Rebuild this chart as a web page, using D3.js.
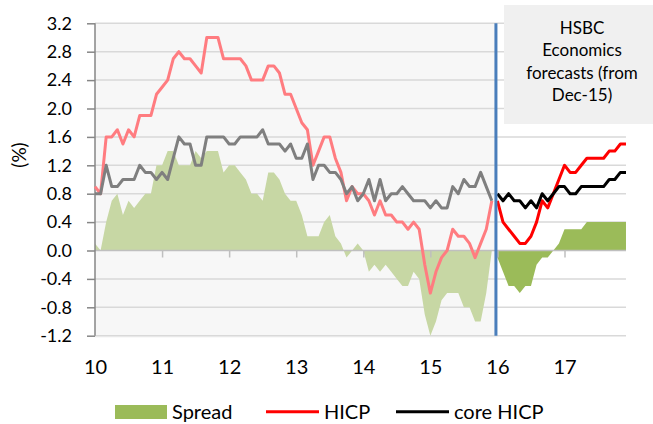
<!DOCTYPE html>
<html><head><meta charset="utf-8">
<script src="https://cdn.jsdelivr.net/npm/d3@7"></script>
<style>
body{margin:0;background:#fff;}
svg{display:block;font-family:Lato,"Open Sans",sans-serif;}
</style>
</head><body>
<svg id="c" width="653" height="424"></svg>
<script>
// ---- data (monthly, Jan 2010 .. Dec 2017) ----
const startYear = 2010;
const hicpHist = [
  0.9,0.8,1.6,1.6,1.7,1.5,1.7,1.6,1.9,1.9,1.9,2.2,
  2.3,2.4,2.7,2.8,2.7,2.7,2.6,2.5,3.0,3.0,3.0,2.7,
  2.7,2.7,2.7,2.6,2.4,2.4,2.4,2.6,2.6,2.5,2.2,2.2,
  2.0,1.8,1.7,1.2,1.4,1.6,1.6,1.3,1.1,0.7,0.9,0.8,
  0.8,0.7,0.5,0.7,0.5,0.5,0.4,0.4,0.3,0.4,0.3,-0.2,
  -0.6,-0.3,-0.1,0.0,0.3,0.2,0.2,0.1,-0.1,0.1,0.3,0.7];
const coreHist = [
  0.8,0.8,1.2,0.9,0.9,1.0,1.0,1.0,1.2,1.1,1.1,1.0,
  1.1,1.0,1.3,1.6,1.5,1.5,1.2,1.2,1.6,1.6,1.6,1.6,
  1.5,1.5,1.6,1.6,1.6,1.6,1.7,1.5,1.5,1.5,1.4,1.5,
  1.3,1.3,1.5,1.0,1.2,1.2,1.1,1.1,1.0,0.8,0.9,0.7,
  0.8,1.0,0.7,1.0,0.7,0.8,0.8,0.9,0.8,0.7,0.7,0.7,
  0.6,0.7,0.6,0.6,0.9,0.8,1.0,0.9,0.9,1.1,0.9,0.7];
const spreadHist = [
  0.1,0.0,0.4,0.7,0.8,0.5,0.7,0.6,0.7,0.8,0.8,1.2,
  1.2,1.4,1.4,1.2,1.2,1.2,1.4,1.3,1.4,1.4,1.4,1.1,
  1.2,1.2,1.1,1.0,0.8,0.8,0.7,1.1,1.1,1.0,0.8,0.7,
  0.7,0.5,0.2,0.2,0.2,0.4,0.5,0.2,0.1,-0.1,0.0,0.1,
  0.0,-0.3,-0.2,-0.3,-0.2,-0.3,-0.4,-0.5,-0.5,-0.3,-0.4,-0.9,
  -1.2,-1.0,-0.7,-0.6,-0.6,-0.6,-0.8,-0.8,-1.0,-1.0,-0.6,0.0];
const hicpFc = [
  0.7,0.4,0.3,0.2,0.1,0.1,0.2,0.4,0.7,0.6,0.8,1.0,
  1.2,1.1,1.1,1.2,1.3,1.3,1.3,1.3,1.4,1.4,1.5,1.5];
const coreFc = [
  0.8,0.7,0.8,0.7,0.7,0.6,0.7,0.6,0.8,0.7,0.8,0.9,
  0.9,0.8,0.8,0.9,0.9,0.9,0.9,0.9,1.0,1.0,1.1,1.1];
const spreadFc = [
  -0.1,-0.3,-0.5,-0.5,-0.6,-0.5,-0.5,-0.2,-0.1,-0.1,0.0,0.1,
  0.3,0.3,0.3,0.3,0.4,0.4,0.4,0.4,0.4,0.4,0.4,0.4];
const yTickValues = [-1.2,-0.8,-0.4,0,0.4,0.8,1.2,1.6,2.0,2.4,2.8,3.2];
const yTickLabels = ["-1.2","-0.8","-0.4","0.0","0.4","0.8","1.2","1.6","2.0","2.4","2.8","3.2"];
const xTickYears = [2010,2011,2012,2013,2014,2015,2016,2017];
const xTickLabels = ["10","11","12","13","14","15","16","17"];
const forecastStart = 2016;
const annotationLines = ["HSBC","Economics","forecasts (from","Dec-15)"];
const legendLabels = ["Spread","HICP","core HICP"];
const yTitle = "(%)";

// ---- build series ----
const histT = hicpHist.map((d,i)=>startYear + i/12);
const fcT = hicpFc.map((d,i)=>startYear + (hicpHist.length + i)/12);
const lastT = fcT[fcT.length-1];

const svg = d3.select("#c");
const x = d3.scaleLinear().domain([2010, 2017]).range([95, 564.5]);
const y = d3.scaleLinear().domain([-1.2, 3.2]).range([335.7, 23.3]);

const xL = x(2010), xR = x(lastT);

// history background
svg.append("rect").attr("x", xL).attr("y", y(3.2)).attr("width", x(forecastStart)-xL)
  .attr("height", y(-1.2)-y(3.2)+2).attr("fill","#f7f7f7");

// gridlines
svg.append("g").selectAll("line").data(yTickValues.filter(v=>v!==0)).join("line")
  .attr("x1", xL).attr("x2", xR).attr("y1", d=>y(d)).attr("y2", d=>y(d))
  .attr("stroke","#d9d9d9").attr("stroke-width",1.5);

// areas
const area = d3.area().x(d=>x(d[0])).y0(y(0)).y1(d=>y(d[1]));
svg.append("path").datum(histT.map((t,i)=>[t,spreadHist[i]])).attr("d",area).attr("fill","#c7d7a4");
svg.append("path").datum(fcT.map((t,i)=>[t,spreadFc[i]])).attr("d",area).attr("fill","#9bbb59");

// x axis (zero line + ticks)
const xAxis = svg.append("g").attr("transform",`translate(0,${y(0)})`)
  .call(d3.axisBottom(x).tickValues(xTickYears.slice(1)).tickSize(7).tickFormat(""));
xAxis.select(".domain").attr("d", `M${xL},0H${xR}`).attr("stroke","#bfbfbf").attr("stroke-width",1.5);
xAxis.selectAll(".tick line").attr("stroke","#bfbfbf").attr("stroke-width",1.5);

// x labels at bottom
const xLab = svg.append("g").attr("transform",`translate(0,${y(-1.2)})`)
  .call(d3.axisBottom(x).tickValues(xTickYears).tickSize(0).tickFormat((d,i)=>xTickLabels[i]));
xLab.select(".domain").remove();
xLab.selectAll("text").attr("y", 38).attr("dy", 0).attr("font-size", 20)
  .attr("font-family","Lato,'Open Sans',sans-serif").attr("fill","#000");

// y axis
const yAxis = svg.append("g").attr("transform",`translate(${xL},0)`)
  .call(d3.axisLeft(y).tickValues(yTickValues).tickSize(8).tickPadding(15)
    .tickFormat((d,i)=>yTickLabels[i]));
yAxis.select(".domain").attr("d", `M0,${y(3.2)}V${y(-1.2)}`).attr("stroke","#868686").attr("stroke-width",1.5);
yAxis.selectAll(".tick line").attr("stroke","#868686").attr("stroke-width",1.5);
yAxis.selectAll("text").attr("font-size", 18).attr("font-family","Lato,'Open Sans',sans-serif").attr("fill","#000");

svg.append("text").attr("transform","translate(26,155) rotate(-90)").attr("text-anchor","middle")
  .attr("font-size",19).text(yTitle);

// lines
const line = d3.line().x(d=>x(d[0])).y(d=>y(d[1]));
const addLine = (ts, vals, col) => svg.append("path").datum(ts.map((t,i)=>[t,vals[i]]))
  .attr("d",line).attr("fill","none").attr("stroke",col).attr("stroke-width",3)
  .attr("stroke-linejoin","round");
addLine(histT, hicpHist, "#ff7c80");
addLine(histT, coreHist, "#7f7f7f");
addLine(fcT, hicpFc, "#ff0000");
addLine(fcT, coreFc, "#000000");

// forecast divider
svg.append("line").attr("x1", x(forecastStart)-1.5).attr("x2", x(forecastStart)-1.5)
  .attr("y1", y(3.2)).attr("y2", y(-1.2)).attr("stroke","#4a7ebb").attr("stroke-width",3);

// annotation box
svg.append("rect").attr("x",504).attr("y",5).attr("width",160).attr("height",119).attr("fill","#f0f0f0");
svg.append("g").selectAll("text").data(annotationLines).join("text")
  .attr("x",582).attr("y",(d,i)=>34+i*22.3).attr("text-anchor","middle")
  .attr("font-size",17).attr("fill","#000").text(d=>d);

// legend
const lg = svg.append("g");
lg.append("rect").attr("x",115).attr("y",405).attr("width",52).attr("height",14).attr("fill","#9bbb59");
lg.append("line").attr("x1",266).attr("x2",319).attr("y1",411.7).attr("y2",411.7).attr("stroke","#ff0000").attr("stroke-width",3);
lg.append("line").attr("x1",396).attr("x2",449).attr("y1",411.7).attr("y2",411.7).attr("stroke","#000").attr("stroke-width",3);
const lx = [172, 324, 454];
lg.selectAll("text").data(legendLabels).join("text")
  .attr("x",(d,i)=>lx[i]).attr("y",419).attr("font-size",20).attr("fill","#000").text(d=>d);
</script>
</body></html>
